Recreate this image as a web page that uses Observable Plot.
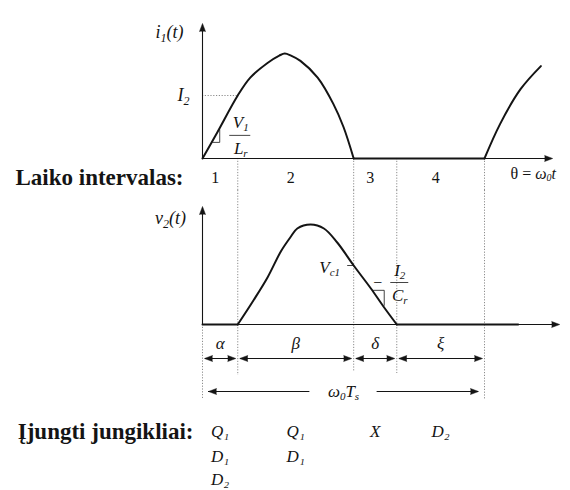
<!DOCTYPE html>
<html>
<head>
<meta charset="utf-8">
<script src="https://cdn.jsdelivr.net/npm/d3@7"></script>
<script src="https://cdn.jsdelivr.net/npm/@observablehq/plot@0.6"></script>
<style>
  html, body { margin: 0; padding: 0; background: #fff; }
  #chart { width: 570px; height: 490px; overflow: hidden; }
  #chart svg { display: block; }
</style>
</head>
<body>
<div id="chart"></div>
<script>
const FONT = '"Liberation Serif", "Times New Roman", serif';
const INK = "#141414";
const GRID = "#8c8c8c";

// One switching period ω0Ts spans 360 θ-units.
const intervalEdges = [0, 45, 193, 248, 360];
const intervalNumbers = ["1", "2", "3", "4"];
const intervalNames = ["α", "β", "δ", "ξ"];
const switchesOn = [["Q₁", "D₁", "D₂"], ["Q₁", "D₁"], ["X"], ["D₂"]];

// Resonant inductor current i1(θ), relative to its peak.
const i1Theta = [0, 19, 45, 61, 83, 98, 105, 113, 125, 147, 167, 180, 193, 360, 380, 406, 432];
const i1Value = [0, 0.25, 0.60, 0.77, 0.91, 0.98, 1.00, 0.98, 0.93, 0.77, 0.52, 0.30, 0, 0, 0.33, 0.66, 0.88];

// Resonant capacitor voltage v2(θ), relative to its peak.
const v2Theta = [0, 45, 65, 83, 100, 112, 121, 138, 155, 172, 193, 215, 231, 248, 403];
const v2Value = [0, 0, 0.24, 0.47, 0.73, 0.87, 0.96, 1.00, 0.96, 0.82, 0.59, 0.36, 0.18, 0, 0];

const I2 = 0.60;   // current level reached at the end of interval α
const Vc1 = 0.59;  // capacitor voltage at the end of interval β

// Horizontal scale shared by both panels.
const X_DOMAIN = [0, 360];
const X_RANGE = [202, 484];
const pxPerUnit = (X_RANGE[1] - X_RANGE[0]) / (X_DOMAIN[1] - X_DOMAIN[0]);

// Split a waveform into curved pieces and flat (zero) pieces so corners stay sharp.
function pieces(thetas, values) {
  const rows = [];
  let piece = 0, prevFlat = null;
  for (let i = 1; i < thetas.length; i++) {
    const flat = values[i - 1] === 0 && values[i] === 0;
    if (prevFlat === null || flat !== prevFlat) {
      piece++;
      rows.push({theta: thetas[i - 1], value: values[i - 1], piece, flat});
    }
    rows.push({theta: thetas[i], value: values[i], piece, flat});
    prevFlat = flat;
  }
  return rows;
}
function waveform(rows) {
  const common = {x: "theta", y: "value", z: "piece", stroke: INK, strokeWidth: 2};
  return [
    Plot.line(rows.filter((d) => d.flat), {...common, curve: "linear"}),
    Plot.line(rows.filter((d) => !d.flat), {...common, curve: "catmull-rom"})
  ];
}

// Text made of runs (base text and subscripts) laid out side by side.
const measureCtx = document.createElement("canvas").getContext("2d");
function runsOf(parts, size, italic, weight) {
  return parts.map((p) => {
    const [text, role] = Array.isArray(p) ? p : [p, "base"];
    const fontSize = role === "sub" ? Math.round(size * 0.64) : size;
    const fontStyle = role === "roman" ? "normal" : italic ? "italic" : "normal";
    measureCtx.font = `${fontStyle} ${weight} ${fontSize}px ${FONT}`;
    return {text, fontSize, fontStyle, width: measureCtx.measureText(text).width, shift: role === "sub" ? size * 0.3 : 0};
  });
}
function richText(parts, at, {anchor = "middle", size = 17, italic = true, weight = 400, dx = 0, dy = 0} = {}) {
  const runs = runsOf(parts, size, italic, weight);
  const total = d3.sum(runs, (r) => r.width);
  let offset = anchor === "middle" ? -total / 2 : anchor === "end" ? -total : 0;
  return runs.map((r) => {
    const mark = Plot.text([at], {
      x: "x", y: "y", text: () => r.text, textAnchor: "start",
      dx: dx + offset, dy: dy + r.shift,
      fontSize: r.fontSize, fontStyle: r.fontStyle, fontWeight: weight, fontFamily: FONT, fill: INK
    });
    offset += r.width;
    return mark;
  });
}
function textWidth(parts, size, italic = true, weight = 400) {
  return d3.sum(runsOf(parts, size, italic, weight), (r) => r.width);
}

// Filled arrow heads; rotate 0 points up, 90 right, -90 left.
function heads(points, dx = 0) {
  return Plot.vector(points, {
    x: "x", y: "y", rotate: "rotate", anchor: "end", shape: "spike",
    length: 8, r: 3, dx, fill: INK, stroke: INK, strokeWidth: 0.5
  });
}

const dotted = {stroke: GRID, strokeWidth: 1, strokeDasharray: "1.2,1.6"};
const mids = d3.range(intervalNumbers.length).map((i) => (intervalEdges[i] + intervalEdges[i + 1]) / 2);

// ---------- upper panel: i1(t) ----------
const topY = [-0.305, 1.505];
const topAxisTop = 1.286, topAxisEnd = 447, topRow = -0.181;
const i1Rows = pieces(i1Theta, i1Value);
// slope marker on the linear ramp of interval α
const ramp = (t) => I2 * t / intervalEdges[1];
const rampMark = [{x: 13, y: ramp(13) - 0.02}, {x: 22, y: ramp(13) - 0.02}, {x: 22, y: ramp(22) - 0.02}];

const topPlot = Plot.plot({
  width: 570, height: 190,
  marginTop: 0, marginBottom: 0, marginLeft: 0, marginRight: 0,
  x: {domain: X_DOMAIN, range: X_RANGE, axis: null},
  y: {domain: topY, range: [190, 0], axis: null},
  style: {fontFamily: FONT, background: "white"},
  marks: [
    Plot.ruleX(intervalEdges.slice(1), {y1: 0, y2: topY[0], ...dotted}),
    Plot.ruleY([I2], {x1: 0, x2: intervalEdges[1], ...dotted}),
    Plot.ruleX([0], {y1: 0, y2: topAxisTop - 0.05, stroke: INK, strokeWidth: 1.1}),
    Plot.ruleY([0], {x1: 0, x2: topAxisEnd - 5, stroke: INK, strokeWidth: 1.1}),
    heads([{x: 0, y: topAxisTop, rotate: 0}, {x: topAxisEnd, y: 0, rotate: 90}]),
    ...waveform(i1Rows),
    Plot.line(rampMark, {x: "x", y: "y", stroke: INK, strokeWidth: 0.8}),
    // labels
    ...richText(["i", ["1", "sub"], "(t)"], {x: 0, y: 1.2}, {size: 18, dx: -33}),
    ...richText(["I", ["2", "sub"]], {x: 0, y: I2}, {size: 18, dx: -19}),
    ...richText(["V", ["1", "sub"]], {x: intervalEdges[1], y: 0.22}, {size: 17, dx: 3, dy: -13}),
    Plot.ruleY([0.22], {x1: intervalEdges[1] - 8 / pxPerUnit, x2: intervalEdges[1] + 13 / pxPerUnit, stroke: INK, strokeWidth: 0.8}),
    ...richText(["L", ["r", "sub"]], {x: intervalEdges[1], y: 0.22}, {size: 17, dx: 3, dy: 13}),
    Plot.text(intervalNumbers, {x: (d, i) => mids[i], y: topRow, dx: -5, fontSize: 16, fontFamily: FONT, fill: INK}),
    Plot.text(["Laiko intervalas:"], {x: 0, y: topRow, dx: -19, textAnchor: "end", fontSize: 23, fontWeight: "bold", fontFamily: FONT, fill: INK}),
    ...richText([["θ = ", "roman"], "ω", ["0", "sub"], "t"], {x: X_DOMAIN[1], y: -0.143}, {anchor: "start", size: 16, dx: 26})
  ]
});

// ---------- lower panel: v2(t) and the interval bookkeeping ----------
const botY = [-1.66, 1.34];
const botAxisTop = 1.18, botAxisEnd = 456;
const nameRow = -0.19, arrowRow = -0.34, periodRow = -0.67;
const switchRows = [-1.07, -1.32, -1.55];
const v2Rows = pieces(v2Theta, v2Value);
// slope marker on the linear fall of interval δ
const fall = (t) => Vc1 * (intervalEdges[3] - t) / (intervalEdges[3] - intervalEdges[2]);
const fallMark = [{x: 218, y: fall(218) + 0.02}, {x: 232, y: fall(218) + 0.02}, {x: 232, y: fall(232) + 0.02}];

const intervalSpans = d3.range(intervalNames.length).map((i) => ({x1: intervalEdges[i], x2: intervalEdges[i + 1]}));
const periodLabel = ["ω", ["0", "sub"], "T", ["s", "sub"]];
const periodMid = (X_DOMAIN[0] + X_DOMAIN[1]) / 2;
const periodGap = (textWidth(periodLabel, 17) / 2 + 12) / pxPerUnit;
const switchCells = switchesOn.flatMap((list, i) => list.map((name, j) => ({x: mids[i], y: switchRows[j], name})));

const botPlot = Plot.plot({
  width: 570, height: 300,
  marginTop: 0, marginBottom: 0, marginLeft: 0, marginRight: 0,
  x: {domain: X_DOMAIN, range: X_RANGE, axis: null},
  y: {domain: botY, range: [300, 0], axis: null},
  style: {fontFamily: FONT, background: "white"},
  marks: [
    Plot.ruleX([0], {y1: 0, y2: -0.74, ...dotted}),
    Plot.ruleX([intervalEdges[1]], {y1: botY[1], y2: -0.51, ...dotted}),
    Plot.ruleX([intervalEdges[2]], {y1: botY[1], y2: -0.47, ...dotted}),
    Plot.ruleX([intervalEdges[3]], {y1: botY[1], y2: -0.49, ...dotted}),
    Plot.ruleX([intervalEdges[4]], {y1: botY[1], y2: -0.76, ...dotted}),
    Plot.ruleX([0], {y1: 0, y2: botAxisTop - 0.05, stroke: INK, strokeWidth: 1.1}),
    Plot.ruleY([0], {x1: 0, x2: botAxisEnd - 5, stroke: INK, strokeWidth: 1.1}),
    heads([{x: 0, y: botAxisTop, rotate: 0}, {x: botAxisEnd, y: 0, rotate: 90}]),
    ...waveform(v2Rows),
    Plot.line(fallMark, {x: "x", y: "y", stroke: INK, strokeWidth: 0.8}),
    Plot.ruleY([Vc1], {x1: intervalEdges[2] - 6 / pxPerUnit, x2: intervalEdges[2], stroke: INK, strokeWidth: 0.8}),
    // labels on the waveform
    ...richText(["v", ["2", "sub"], "(t)"], {x: 0, y: 1.06}, {size: 18, dx: -32}),
    ...richText(["V", ["c1", "sub"]], {x: intervalEdges[2], y: Vc1}, {size: 17, dx: -24, dy: 2}),
    Plot.text(["−"], {x: intervalEdges[3], y: 0.42, dx: -19, fontSize: 16, fontFamily: FONT, fill: INK}),
    ...richText(["I", ["2", "sub"]], {x: intervalEdges[3], y: 0.42}, {size: 17, dx: 3, dy: -12}),
    Plot.ruleY([0.42], {x1: intervalEdges[3] - 6 / pxPerUnit, x2: intervalEdges[3] + 12 / pxPerUnit, stroke: INK, strokeWidth: 0.8}),
    ...richText(["C", ["r", "sub"]], {x: intervalEdges[3], y: 0.42}, {size: 17, dx: 3, dy: 13}),
    // interval widths α β δ ξ
    Plot.text(intervalNames, {x: (d, i) => mids[i], y: nameRow, fontSize: 17, fontStyle: "italic", fontFamily: FONT, fill: INK}),
    Plot.ruleY(intervalSpans, {x1: "x1", x2: "x2", y: arrowRow, insetLeft: 3, insetRight: 3, stroke: INK, strokeWidth: 1}),
    heads(intervalSpans.map((s) => ({x: s.x1, y: arrowRow, rotate: -90})), 2),
    heads(intervalSpans.map((s) => ({x: s.x2, y: arrowRow, rotate: 90})), -2),
    // whole period ω0Ts
    Plot.ruleY([{x1: X_DOMAIN[0], x2: periodMid - periodGap}, {x1: periodMid + periodGap, x2: X_DOMAIN[1]}],
      {x1: "x1", x2: "x2", y: periodRow, insetLeft: 6, insetRight: 6, stroke: INK, strokeWidth: 1}),
    heads([{x: X_DOMAIN[0], y: periodRow, rotate: -90}], 6),
    heads([{x: X_DOMAIN[1], y: periodRow, rotate: 90}], -6),
    ...richText(periodLabel, {x: periodMid, y: periodRow}, {size: 17}),
    // switches conducting in each interval
    Plot.text(["Įjungti jungikliai:"], {x: 0, y: switchRows[0], dx: -9, textAnchor: "end", fontSize: 23, fontWeight: "bold", fontFamily: FONT, fill: INK}),
    Plot.text(switchCells, {x: "x", y: "y", text: "name", fontSize: 17, fontStyle: "italic", fontFamily: FONT, fill: INK})
  ]
});

const chart = document.getElementById("chart");
chart.append(topPlot, botPlot);
</script>
</body>
</html>
